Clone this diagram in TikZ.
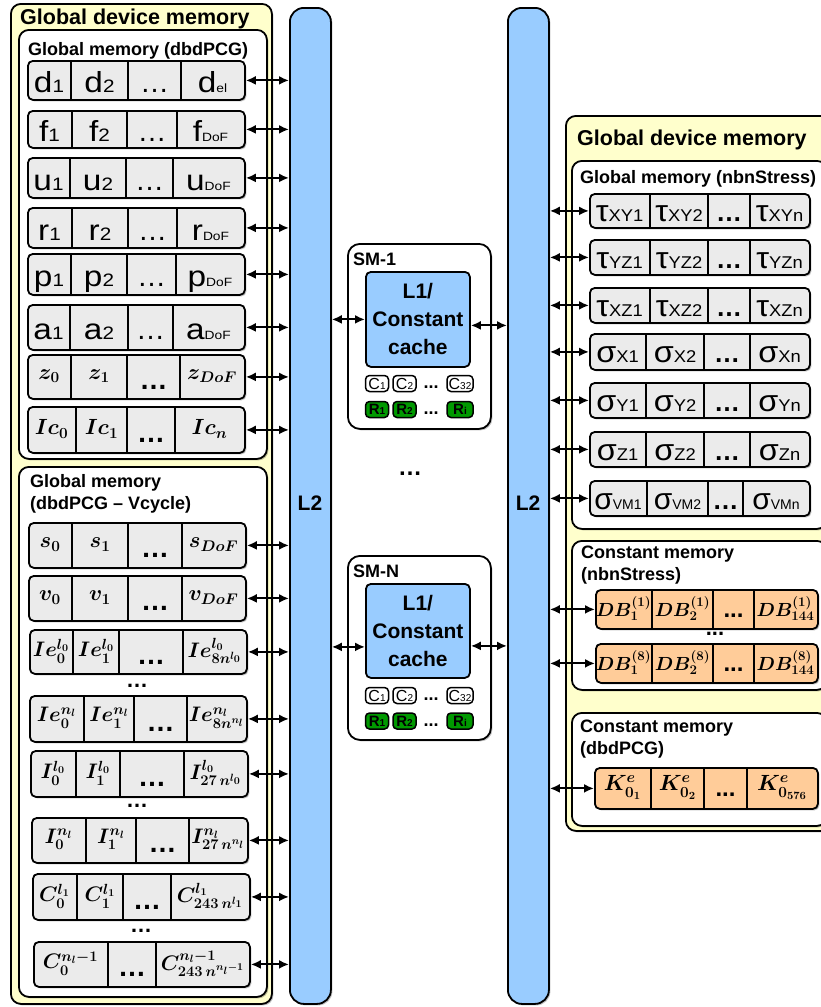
\RequirePackage{fix-cm}
\documentclass[tikz,border=0pt]{standalone}
\usepackage[no-math]{fontspec}
\setmainfont{Liberation Sans}
\usetikzlibrary{arrows.meta,shadows,calc}
\definecolor{yel}{HTML}{FFFFCC}
\definecolor{l2blue}{HTML}{99CCFF}
\definecolor{cellgray}{HTML}{EBEBEB}
\definecolor{orng}{HTML}{FFCC99}
\definecolor{rgreen}{HTML}{009900}
\newcommand\sbs[1]{{\fontsize{18}{18}\selectfont #1}}
\newcommand\ssb[1]{{\fontsize{12}{12}\selectfont #1}}
\newcommand\tsb[1]{{\fontsize{17}{17}\selectfont #1}}
\newcommand\vsb[1]{{\fontsize{14}{14}\selectfont #1}}
\newcommand\csb[1]{{\fontsize{10}{10}\selectfont #1}}
\newcommand\hw[1]{\scalebox{1.15}[1]{#1}}
\newcommand\tw[1]{\scalebox{1.08}[1]{#1}}
\newcommand\boxat[6]{\node[#1,anchor=north west,inner sep=0pt,minimum width={(#5-#3)*1pt},minimum height={(#6-#4)*1pt}] (#2) at (#3,#4) {};}
\newcommand\mrow[9][cellgray]{%
  \boxat{rowbox,fill=#1}{#2}{#5}{#3}{#9}{#4}
  \draw[divline] (#6,#3) -- (#6,#4) (#7,#3) -- (#7,#4) (#8,#3) -- (#8,#4);
  \coordinate (#2-1) at ({(#5+#6)/2},{(#3+#4)/2});
  \coordinate (#2-2) at ({(#6+#7)/2},{(#3+#4)/2});
  \coordinate (#2-3) at ({(#7+#8)/2},{(#3+#4)/2});
  \coordinate (#2-4) at ({(#8+#9)/2},{(#3+#4)/2});
}
\begin{document}
\begin{tikzpicture}[x=1pt,y=-1pt,
  shad/.style={drop shadow={shadow xshift=1.5pt,shadow yshift=-1.5pt,fill=black,opacity=0.25}},
  cont/.style={draw=black,line width=1.8pt,rounded corners=10pt,shad},
  rowbox/.style={draw=black,line width=1.8pt,rounded corners=5pt,shad},
  l2bar/.style={draw=black,line width=1.8pt,rounded corners=14pt,fill=l2blue,shad},
  divline/.style={line width=1.5pt},
  ttl/.style={anchor=base west,inner sep=0pt,font=\bfseries\fontsize{21.5}{24}\selectfont},
  sttl/.style={anchor=base west,inner sep=0pt,font=\bfseries\fontsize{18}{20}\selectfont},
  l2txt/.style={font=\bfseries\fontsize{21}{24}\selectfont},
  st/.style={inner sep=0pt,font=\fontsize{29}{29}\selectfont,text height=26pt,text depth=0pt},
  rt/.style={inner sep=0pt,font=\fontsize{30}{30}\selectfont,text height=23pt,text depth=0pt},
  dt/.style={st,font=\bfseries\fontsize{28}{28}\selectfont},
  rdt/.style={rt,font=\bfseries\fontsize{26}{26}\selectfont},
  mt/.style={inner sep=0pt,font=\fontsize{22}{26}\selectfont\boldmath},
  mts/.style={inner sep=0pt,font=\fontsize{21}{24}\selectfont\boldmath},
  dbt/.style={inner sep=0pt,font=\fontsize{19}{22}\selectfont\boldmath},
  bdots/.style={inner sep=0pt,font=\bfseries\fontsize{24}{24}\selectfont,text height=18pt,text depth=0pt},
  sepdots/.style={inner sep=0pt,font=\bfseries\fontsize{22}{22}\selectfont},
  smbox/.style={draw=black,line width=1.8pt,rounded corners=12pt,fill=white,shad},
  l1box/.style={draw=black,line width=1.8pt,rounded corners=5pt,fill=l2blue},
  l1txt/.style={align=center,font=\bfseries\fontsize{21}{28}\selectfont},
  ccell/.style={draw=black,line width=1.5pt,rounded corners=4pt,fill=white,inner sep=0pt,minimum height=16pt,minimum width=23pt,font=\fontsize{16}{16}\selectfont},
  rcell/.style={ccell,fill=rgreen,font=\bfseries\fontsize{15}{15}\selectfont},
  arr/.style={{Latex[length=10pt,width=9pt]}-{Latex[length=10pt,width=9pt]},line width=2pt}
]
\clip (0,0) rectangle (821,1007);
% containers
\boxat{cont,fill=yel}{gdmL}{10}{3}{271}{1003}
\boxat{cont,fill=white}{gmA}{18}{29}{266}{458}
\boxat{cont,fill=white}{gmB}{18}{466}{266}{996}
\boxat{cont,fill=yel}{gdmR}{565}{115}{830}{830}
\boxat{cont,fill=white}{gmC}{571}{160}{826}{528}
\boxat{cont,fill=white}{cmA}{571}{540}{826}{689}
\boxat{cont,fill=white}{cmB}{571}{712}{826}{825}
\node[ttl] (t1) at (20,24) {Global device memory};
\node[sttl] (t2) at (28,55) {Global memory (dbdPCG)};
\node[sttl] (t3) at (30,487) {Global memory};
\node[sttl] (t3b) at (30,509) {(dbdPCG – Vcycle)};
\node[ttl] (t4) at (577,145) {Global device memory};
\node[sttl] (t5) at (580,183) {Global memory (nbnStress)};
\node[sttl] (t6) at (581,558) {Constant memory};
\node[sttl] (t6b) at (581,580) {(nbnStress)};
\node[sttl] (t7) at (580,732) {Constant memory};
\node[sttl] (t7b) at (580,754) {(dbdPCG)};
% L2 bars
\boxat{l2bar}{L2a}{289}{7}{330}{1003}
\boxat{l2bar}{L2b}{507}{7}{548}{1003}
\node[l2txt] (L2at) at (310,503) {L2};
\node[l2txt] (L2bt) at (528,503) {L2};
% left upper rows
\mrow{d}{60}{99}{27}{71}{128}{181}{244}
\mrow{f}{110}{147}{27}{72}{127}{177}{244}
\mrow{u}{157}{197}{27}{70}{126}{173}{244}
\mrow{r}{207}{247}{27}{72}{128}{177}{244}
\mrow{p}{253}{294}{27}{71}{127}{176}{244}
\mrow{a}{304}{349}{27}{70}{128}{173}{244}
\mrow{z}{354}{398}{27}{71}{127}{180}{244}
\mrow{Ic}{406}{452}{27}{76}{127}{175}{244}
\foreach \v/\last in {d/el,f/DoF,u/DoF,r/DoF,p/DoF,a/DoF}{
  \node[st] at (\v-1) {\hw{\v\sbs{1}}};
  \node[st] at (\v-2) {\hw{\v\sbs{2}}};
  \node[st] at (\v-3) {…};
  \node[st] at (\v-4) {\hw{\v\ssb{\last}}};
}
\node[mt] at (z-1) {$z_0$};
\node[mt] at (z-2) {$z_1$};
\node[dt] at (z-3) {…};
\node[mt] at (z-4) {$z_{DoF}$};
\node[mt] at (Ic-1) {$Ic_0$};
\node[mt] at (Ic-2) {$Ic_1$};
\node[dt] at (Ic-3) {…};
\node[mt] at (Ic-4) {$Ic_n$};
% left lower rows
\mrow{s}{522}{567}{28}{72}{128}{182}{245}
\mrow{v}{575}{620}{28}{72}{128}{182}{245}
\mrow{IeA}{629}{673}{29}{73}{119}{183}{246}
\mrow{IeB}{695}{741}{29}{84}{134}{187}{246}
\mrow{IA}{750}{796}{30}{76}{120}{184}{247}
\mrow{IB}{817}{862}{31}{86}{136}{189}{247}
\mrow{CA}{873}{919}{32}{77}{123}{171}{249}
\boxat{rowbox,fill=cellgray}{CB}{33}{941}{249}{986}
\draw[divline] (108,941) -- (108,986) (156,941) -- (156,986);
\coordinate (CB-1) at (70.5,963.5);
\coordinate (CB-2) at (132,963.5);
\coordinate (CB-3) at (202.5,963.5);
\node[mt] at (s-1) {$s_0$};
\node[mt] at (s-2) {$s_1$};
\node[dt] at (s-3) {…};
\node[mt] at (s-4) {$s_{DoF}$};
\node[mt] at (v-1) {$v_0$};
\node[mt] at (v-2) {$v_1$};
\node[dt] at (v-3) {…};
\node[mt] at (v-4) {$v_{DoF}$};
\node[mts] at (IeA-1) {$Ie^{l_0}_0$};
\node[mts] at (IeA-2) {$Ie^{l_0}_1$};
\node[dt] at (IeA-3) {…};
\node[mts] at (IeA-4) {$Ie^{l_0}_{8n^{l_0}}$};
\node[mts] at (IeB-1) {$Ie^{n_l}_0$};
\node[mts] at (IeB-2) {$Ie^{n_l}_1$};
\node[dt] at (IeB-3) {…};
\node[mts] at (IeB-4) {$Ie^{n_l}_{8n^{n_l}}$};
\node[mts] at (IA-1) {$I^{l_0}_0$};
\node[mts] at (IA-2) {$I^{l_0}_1$};
\node[dt] at (IA-3) {…};
\node[mts] at (IA-4) {$I^{l_0}_{27\,n^{l_0}}$};
\node[mts] at (IB-1) {$I^{n_l}_0$};
\node[mts] at (IB-2) {$I^{n_l}_1$};
\node[dt] at (IB-3) {…};
\node[mts] at (IB-4) {$I^{n_l}_{27\,n^{n_l}}$};
\node[mts] at (CA-1) {$C^{l_1}_0$};
\node[mts] at (CA-2) {$C^{l_1}_1$};
\node[dt] at (CA-3) {…};
\node[mts] at (CA-4) {$C^{l_1}_{243\,n^{l_1}}$};
\node[mts] at (CB-1) {$C^{n_l-1}_0$};
\node[dt] at (CB-2) {…};
\node[mts] at (CB-3) {$C^{n_l-1}_{243\,n^{n_l-1}}$};
\node[sepdots] (sd1) at (137,686) {…};
\node[sepdots] (sd2) at (137,806) {…};
\node[sepdots] (sd3) at (141,931) {…};
% right rows
\mrow{tA}{193}{227}{589}{650}{708}{750}{809}
\mrow{tB}{239}{274}{589}{650}{708}{750}{809}
\mrow{tC}{287}{322}{589}{650}{708}{750}{809}
\mrow{sA}{333}{369}{589}{646}{704}{750}{809}
\mrow{sB}{382}{417}{589}{646}{704}{750}{809}
\mrow{sC}{431}{466}{589}{646}{704}{750}{809}
\mrow{sD}{480}{515}{589}{647}{708}{743}{809}
\foreach \rw/\sym/\ix in {tA/τ/XY,tB/τ/YZ,tC/τ/XZ,sA/σ/X,sB/σ/Y,sC/σ/Z}{
  \node[rt] at (\rw-1) {\tw{\sym\tsb{\ix 1}}};
  \node[rt] at (\rw-2) {\tw{\sym\tsb{\ix 2}}};
  \node[rdt] at (\rw-3) {…};
  \node[rt] at (\rw-4) {\tw{\sym\tsb{\ix n}}};
}
\node[rt] at (sD-1) {σ\vsb{VM1}};
\node[rt] at (sD-2) {σ\vsb{VM2}};
\node[rdt] at (sD-3) {…};
\node[rt] at (sD-4) {σ\vsb{VMn}};
\mrow[orng]{DBA}{589}{628}{595}{652}{713}{754}{817}
\mrow[orng]{DBB}{643}{682}{595}{652}{713}{754}{817}
\mrow[orng]{K}{767}{808}{594}{651}{704}{747}{817}
\node[dbt] at (DBA-1) {$DB^{(1)}_1$};
\node[dbt] at (DBA-2) {$DB^{(1)}_2$};
\node[bdots] at (DBA-3) {...};
\node[dbt] at (DBA-4) {$DB^{(1)}_{144}$};
\node[dbt] at (DBB-1) {$DB^{(8)}_1$};
\node[dbt] at (DBB-2) {$DB^{(8)}_2$};
\node[bdots] at (DBB-3) {...};
\node[dbt] at (DBB-4) {$DB^{(8)}_{144}$};
\node[sepdots] (sd4) at (715,634) {...};
\node[mt] at (K-1) {$K^{e}_{0_1}$};
\node[mt] at (K-2) {$K^{e}_{0_2}$};
\node[bdots] at (K-3) {...};
\node[mt] at (K-4) {$K^{e}_{0_{576}}$};
% SM blocks
\boxat{smbox}{SMa}{347}{243}{490}{428}
\node[sttl] (SMat) at (353,265) {SM-1};
\boxat{l1box}{L1a}{365}{271}{469}{366}
\node[l1txt] (L1at) at (L1a) {L1/\\Constant\\cache};
\node[ccell] (Ca1) at (377,383.5) {C\csb{1}};
\node[ccell] (Ca2) at (404.5,383.5) {C\csb{2}};
\node[ccell,minimum width=26pt] (Ca3) at (460,383.5) {C\csb{32}};
\node[rcell] (Ra1) at (377,409.5) {R\csb{1}};
\node[rcell] (Ra2) at (404.5,409.5) {R\csb{2}};
\node[rcell,minimum width=26pt] (Ra3) at (460,409.5) {R\csb{i}};
\node[sepdots,font=\bfseries\fontsize{18}{18}\selectfont] (cda) at (431,387) {...};
\node[sepdots,font=\bfseries\fontsize{18}{18}\selectfont] (rda) at (431,413) {...};
\boxat{smbox}{SMb}{347}{555}{490}{739}
\node[sttl] (SMbt) at (353,577) {SM-N};
\boxat{l1box}{L1b}{365}{583}{469}{677}
\node[l1txt] (L1bt) at (L1b) {L1/\\Constant\\cache};
\node[ccell] (Cb1) at (377,695.5) {C\csb{1}};
\node[ccell] (Cb2) at (404.5,695.5) {C\csb{2}};
\node[ccell,minimum width=26pt] (Cb3) at (460,695.5) {C\csb{32}};
\node[rcell] (Rb1) at (377,721) {R\csb{1}};
\node[rcell] (Rb2) at (404.5,721) {R\csb{2}};
\node[rcell,minimum width=26pt] (Rb3) at (460,721) {R\csb{i}};
\node[sepdots,font=\bfseries\fontsize{18}{18}\selectfont] (cdb) at (431,699) {...};
\node[sepdots,font=\bfseries\fontsize{18}{18}\selectfont] (rdb) at (431,725) {...};
\node[sepdots,font=\bfseries\fontsize{24}{24}\selectfont] (mid) at (410,474) {…};
% connectors
\foreach \rw in {d,f,u,r,p,a,z,Ic,s,v,IeA,IeB,IA,IB,CA,CB}{
  \draw[arr] (\rw.east) -- (\rw.east -| L2a.west);
}
\foreach \rw in {tA,tB,tC,sA,sB,sC,sD,DBA,DBB,K}{
  \draw[arr] (\rw.west -| L2b.east) -- (\rw.west);
}
\draw[arr] (L1a.west -| L2a.east) -- (L1a.west);
\coordinate (pa) at ([yshift=-6pt]L1a.east);
\draw[arr] (pa) -- (pa -| L2b.west);
\coordinate (pb) at ([yshift=-16pt]L1b.west);
\coordinate (qb) at ([yshift=-15pt]L1b.east);
\draw[arr] (pb -| L2a.east) -- (pb);
\draw[arr] (qb) -- (qb -| L2b.west);
\end{tikzpicture}
\end{document}
